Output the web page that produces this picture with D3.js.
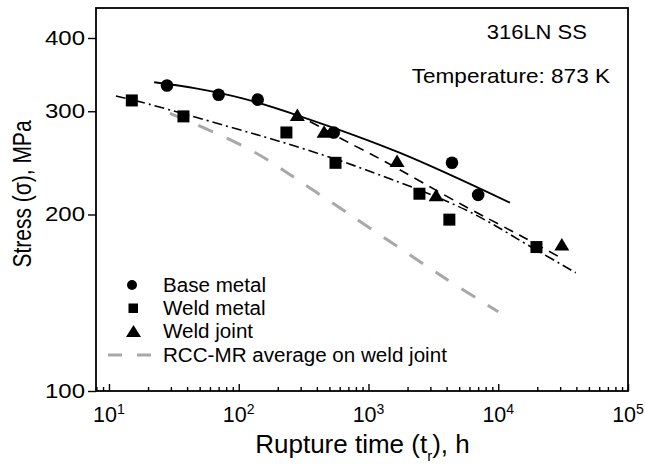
<!DOCTYPE html>
<html>
<head>
<meta charset="utf-8">
<script src="https://cdn.jsdelivr.net/npm/d3@7"></script>
<style>
  html, body { margin: 0; padding: 0; background: #fff; }
  svg text { font-family: "Liberation Sans", Arial, Helvetica, sans-serif; fill: #000; }
</style>
</head>
<body>
<svg id="chart" width="645" height="466"></svg>
<script>
// ---------- data ----------
const baseMetalT = [28, 70, 140, 540, 4400, 7000];
const baseMetalS = [332, 320, 314, 276, 245, 216];

const weldMetalT = [15, 37.5, 233, 557, 2470, 4200, 19700];
const weldMetalS = [313, 294, 276, 245, 217, 196, 176];

const weldJointT = [283, 455, 1660, 3320, 30900];
const weldJointS = [296, 277, 247, 216, 178];

// fitted curves
const baseFitT = [22.3, 46.7, 106.8, 294, 1732, 12300];
const baseFitS = [336.2, 328.3, 315.6, 294.4, 255.0, 209.5];

const jointFitT = [270, 420, 634, 1288, 5310, 14520, 29400];
const jointFitS = [297, 282.4, 268.5, 247.4, 207.6, 184.5, 169.4];

const weldFitT = [11.3, 17.3, 83.7, 294, 960, 5650, 19600, 39600];
const weldFitS = [318.5, 311.4, 282.4, 260.2, 238.2, 203.5, 174.0, 159.1];

const rccT = [29.5, 123.6, 391, 3728, 10000];
const rccS = [297.6, 257.6, 218.7, 156.7, 136.5];

const yTicks = [100, 200, 300, 400];
const xMajorExp = [1, 2, 3, 4, 5];

const legendLabels = ["Base metal", "Weld metal", "Weld joint", "RCC-MR average on weld joint"];
const annot1 = "316LN SS";
const annot2 = "Temperature: 873 K";

// ---------- layout ----------
const svg = d3.select("#chart");
const L = 96, R = 628, T = 8, B = 391;

const x = d3.scaleLog().domain([Math.pow(10, 0.9), 1e5]).range([L, R]);
const y = d3.scaleLog().domain([100, 450]).range([B, T]);

function zip(a, b) { return a.map((v, i) => [v, b[i]]); }

function txt(g, px, py, str, size, anchor, sx) {
  return g.append("text")
    .attr("transform", `translate(${px},${py}) scale(${sx || 1},1)`)
    .attr("text-anchor", anchor || "start")
    .attr("font-size", size)
    .text(str);
}

// ---------- axes ----------
const majors = xMajorExp.map(e => Math.pow(10, e));
const minorTicks = [];
for (let e = 0; e <= 4; e++) {
  for (let m = 2; m <= 9; m++) {
    const v = m * Math.pow(10, e);
    if (v >= x.domain()[0] * 0.999 && v <= 1e5) minorTicks.push(v);
  }
}
const xAxisMinor = d3.axisBottom(x).tickValues(minorTicks).tickSize(-4).tickFormat("");
const xAxisMajor = d3.axisBottom(x).tickValues(majors).tickSize(-7).tickFormat("");

const gxm = svg.append("g").attr("transform", `translate(0,${B})`).call(xAxisMinor);
const gxM = svg.append("g").attr("transform", `translate(0,${B})`).call(xAxisMajor);
[gxm, gxM].forEach(g => {
  g.select(".domain").remove();
  g.selectAll(".tick line").attr("stroke", "#000").attr("stroke-width", 1.4);
});

xMajorExp.forEach(e => {
  const t = svg.append("text")
    .attr("x", x(Math.pow(10, e)))
    .attr("y", 421.7)
    .attr("text-anchor", "middle")
    .attr("font-size", 21.5);
  t.append("tspan").text("10");
  t.append("tspan").attr("font-size", 14).attr("dy", -8).text(String(e));
});

const yAxis = d3.axisLeft(y).tickValues(yTicks).tickSize(8).tickFormat("");
const gy = svg.append("g").attr("transform", `translate(${L},0)`).call(yAxis);
gy.select(".domain").remove();
gy.selectAll(".tick line").attr("stroke", "#000").attr("stroke-width", 1.4);
yTicks.forEach(v => {
  txt(svg, 85, y(v) + 7, String(v), 20, "end", 1.2);
});

svg.append("rect")
  .attr("x", L).attr("y", T).attr("width", R - L).attr("height", B - T)
  .attr("fill", "none").attr("stroke", "#000").attr("stroke-width", 1.8);

const xt = svg.append("text")
  .attr("x", (255 + 470) / 2).attr("y", 453)
  .attr("text-anchor", "middle").attr("font-size", 26);
xt.append("tspan").text("Rupture time (t");
xt.append("tspan").attr("font-size", 15).attr("dy", 8).text("r");
xt.append("tspan").attr("dy", -8).text("), h");

svg.append("text")
  .attr("transform", "translate(31,194) scale(1.25,1) rotate(-90)")
  .attr("text-anchor", "middle").attr("font-size", 21)
  .text("Stress (σ), MPa");

// ---------- curves ----------
const line = d3.line().x(d => x(d[0])).y(d => y(d[1])).curve(d3.curveCatmullRom.alpha(0.5));

svg.append("path").datum(zip(rccT, rccS)).attr("d", line)
  .attr("fill", "none").attr("stroke", "#a8a8a8").attr("stroke-width", 3)
  .attr("stroke-dasharray", "16,15");

svg.append("path").datum(zip(weldFitT, weldFitS)).attr("d", line)
  .attr("fill", "none").attr("stroke", "#000").attr("stroke-width", 1.6)
  .attr("stroke-dasharray", "10,4,2,4");

svg.append("path").datum(zip(jointFitT, jointFitS)).attr("d", line)
  .attr("fill", "none").attr("stroke", "#000").attr("stroke-width", 1.6)
  .attr("stroke-dasharray", "10,7");

svg.append("path").datum(zip(baseFitT, baseFitS)).attr("d", line)
  .attr("fill", "none").attr("stroke", "#000").attr("stroke-width", 1.8);

// ---------- markers ----------
function triPath(w, h) {
  return `M0,${-h / 2}L${w / 2},${h / 2}L${-w / 2},${h / 2}Z`;
}

svg.append("g").selectAll("circle").data(zip(baseMetalT, baseMetalS)).join("circle")
  .attr("cx", d => x(d[0])).attr("cy", d => y(d[1])).attr("r", 6.3).attr("fill", "#000");

svg.append("g").selectAll("rect").data(zip(weldMetalT, weldMetalS)).join("rect")
  .attr("x", d => x(d[0]) - 6).attr("y", d => y(d[1]) - 6)
  .attr("width", 12).attr("height", 12).attr("fill", "#000");

svg.append("g").selectAll("path").data(zip(weldJointT, weldJointS)).join("path")
  .attr("transform", d => `translate(${x(d[0])},${y(d[1])})`)
  .attr("d", triPath(15, 12.5)).attr("fill", "#000");

// ---------- legend ----------
const lg = svg.append("g");
lg.append("circle").attr("cx", 132).attr("cy", 285).attr("r", 5).attr("fill", "#000");
lg.append("rect").attr("x", 128.5).attr("y", 303.5).attr("width", 9.5).attr("height", 9.5).attr("fill", "#000");
lg.append("path").attr("transform", "translate(133.5,331)").attr("d", triPath(15, 12)).attr("fill", "#000");
lg.append("line").attr("x1", 108).attr("x2", 152).attr("y1", 355).attr("y2", 355)
  .attr("stroke", "#a8a8a8").attr("stroke-width", 3).attr("stroke-dasharray", "14,15");
const baselines = [291.7, 315, 338.3, 361.7];
legendLabels.forEach((s, i) => txt(lg, 163, baselines[i], s, 20, "start", 1.03));

// ---------- annotations ----------
txt(svg, 486.7, 39.3, annot1, 20, "start", 1.1);
txt(svg, 411.7, 83.3, annot2, 20, "start", 1.13);
</script>
</body>
</html>
